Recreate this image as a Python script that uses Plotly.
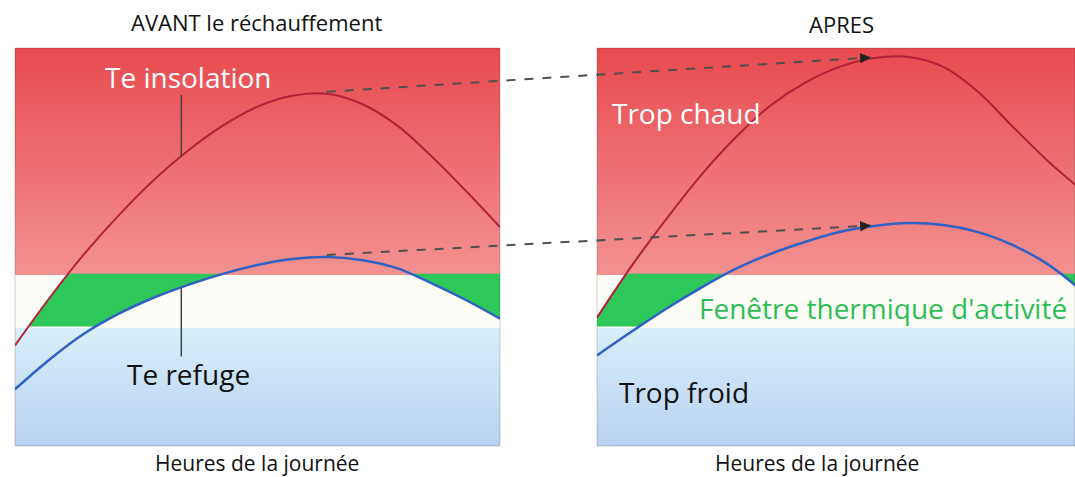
import numpy as np
import plotly.graph_objects as go

# heures de la journee (axe commun aux deux panneaux)
heures = [6, 7, 8, 9, 10, 11, 12, 13, 14, 15, 16, 17, 18, 19, 20]

# temperatures operatives
avant_insolation = [10.1, 14.9, 19.3, 23.2, 26.7, 29.7, 32.2, 34.1, 35.2, 35.4, 34.4, 32.3, 29.2, 25.7, 22.0]
avant_refuge = [5.7, 8.7, 11.3, 13.3, 14.9, 16.2, 17.3, 18.2, 18.8, 19.0, 18.7, 17.9, 16.4, 14.7, 12.8]
apres_insolation = [12.9, 18.1, 22.8, 27.2, 31.0, 34.2, 36.5, 38.1, 39.0, 39.1, 38.1, 35.6, 32.1, 28.7, 25.7]
apres_refuge = [9.1, 11.5, 13.8, 15.9, 17.8, 19.3, 20.5, 21.5, 22.1, 22.4, 22.2, 21.5, 20.2, 18.3, 15.6]

# fenetre thermique d'activite
fenetre_min = 12.0
fenetre_max = 17.3

T_MAX = 40
X_MIN, X_MAX = 6, 20
X_MAX_APRES = 19.8  # le panneau de droite est coupe par le bord

W, H = 1075, 477
dom_avant = [15 / W, 500 / W]
dom_apres = [597 / W, 1.0]
dom_y = [1 - 446 / H, 1 - 48 / H]

ROUGE = '#b32136'
BLEU = '#2f62c4'
VERT = '#2ec75a'

fond = [[0, '#b9d0f1'], [fenetre_min / T_MAX, '#d8f0fa'],
        [fenetre_min / T_MAX, '#fdfdf8'], [fenetre_max / T_MAX, '#fdfdf8'],
        [fenetre_max / T_MAX, '#f39191'], [1, '#e84b4f']]


def fenetre_poly(h, ins, ref):
    hh = np.linspace(h[0], h[-1], 2801)
    top = np.minimum(fenetre_max, np.interp(hh, h, ins))
    bot = np.maximum(fenetre_min, np.interp(hh, h, ref))
    ok = top > bot
    xs, ys = [], []
    i = 0
    while i < len(hh):
        if ok[i]:
            j = i
            while j + 1 < len(hh) and ok[j + 1]:
                j += 1
            seg = slice(i, j + 1)
            xs += list(hh[seg]) + list(hh[seg][::-1]) + [None]
            ys += list(top[seg]) + list(bot[seg][::-1]) + [None]
            i = j + 1
        else:
            i += 1
    return xs, ys


fig = go.Figure()
t_grid = np.linspace(0, T_MAX, 401)

panels = [('x', 'y', avant_insolation, avant_refuge),
          ('x2', 'y2', apres_insolation, apres_refuge)]
for xa, ya, ins, ref in panels:
    fig.add_trace(go.Heatmap(x=[X_MIN, X_MAX], y=t_grid, z=[[t, t] for t in t_grid],
                             colorscale=fond, zmin=0, zmax=T_MAX, zsmooth='best',
                             showscale=False, hoverinfo='skip', xaxis=xa, yaxis=ya))
    gx, gy = fenetre_poly(heures, ins, ref)
    fig.add_trace(go.Scatter(x=gx, y=gy, mode='lines', fill='toself', fillcolor=VERT,
                             line=dict(width=0), hoverinfo='skip', xaxis=xa, yaxis=ya))
    fig.add_trace(go.Scatter(x=heures, y=ins, mode='lines', line=dict(color=ROUGE, width=2, shape='spline'),
                             hoverinfo='skip', xaxis=xa, yaxis=ya))
    fig.add_trace(go.Scatter(x=heures, y=ref, mode='lines', line=dict(color=BLEU, width=2.5, shape='spline'),
                             hoverinfo='skip', xaxis=xa, yaxis=ya))

# petits traits de rappel des etiquettes
h_tick = 10.8
fig.add_trace(go.Scatter(x=[h_tick, h_tick, None, h_tick, h_tick],
                         y=[35.3, np.interp(h_tick, heures, avant_insolation), None,
                            np.interp(h_tick, heures, avant_refuge), 9.0],
                         mode='lines', line=dict(color='#444444', width=1.5), hoverinfo='skip'))


def to_paper(h, t, apres):
    d = dom_apres if apres else dom_avant
    x1 = X_MAX_APRES if apres else X_MAX
    px = d[0] + (h - X_MIN) / (x1 - X_MIN) * (d[1] - d[0])
    py = dom_y[0] + t / T_MAX * (dom_y[1] - dom_y[0])
    return px, py


# fleches en tirets AVANT -> APRES
for serie_av, serie_ap in [(avant_insolation, apres_insolation), (avant_refuge, apres_refuge)]:
    x0, y0 = to_paper(15, serie_av[heures.index(15)] + 0.2, False)
    x1, y1 = to_paper(13.9, serie_ap[heures.index(14)] + 0.05, True)
    fig.add_shape(type='line', xref='paper', yref='paper', x0=x0, y0=y0, x1=x1, y1=y1,
                  line=dict(color='#505050', width=2, dash='dash'))
    fig.add_annotation(xref='paper', yref='paper', x=x1, y=y1, ax=-12, ay=0.8, text='',
                       showarrow=True, arrowhead=2, arrowsize=1.3, arrowwidth=1.6, arrowcolor='#222222')

# cadres des panneaux
for xa, ya in [('x', 'y'), ('x2', 'y2')]:
    fig.add_shape(type='rect', xref=xa + ' domain', yref=ya + ' domain', x0=0, x1=1, y0=0, y1=1,
                  line=dict(color='rgba(0,0,0,0.18)', width=1))

FONT = 'Open Sans'
labels = [
    ('x', 'y', 11.0, 37.1, 'Te insolation', 'white', 28, 'center'),
    ('x', 'y', 11.0, 7.25, 'Te refuge', '#111111', 28, 'center'),
    ('x2', 'y2', 6.37, 33.5, 'Trop chaud', 'white', 28, 'left'),
    ('x2', 'y2', 6.58, 5.4, 'Trop froid', '#111111', 28, 'left'),
    ('x2', 'y2', 8.88, 13.9, "Fenêtre thermique d'activité", '#2dbd55', 28, 'left'),
]
for xa, ya, x, y, txt, col, size, anchor in labels:
    fig.add_annotation(xref=xa, yref=ya, x=x, y=y, text=txt, showarrow=False, xanchor=anchor,
                       yanchor='middle', font=dict(family=FONT, size=size, color=col))

titres = [(256 / W, 1 - 22 / H, 'AVANT le réchauffement', 22), (841 / W, 1 - 24 / H, 'APRES', 22),
          (257 / W, 1 - 463 / H, 'Heures de la journée', 21), (817 / W, 1 - 463 / H, 'Heures de la journée', 21)]
for x, y, txt, size in titres:
    fig.add_annotation(xref='paper', yref='paper', x=x, y=y, text=txt, showarrow=False,
                       xanchor='center', yanchor='middle', font=dict(family=FONT, size=size, color='#111111'))

ax_common = dict(visible=False, showgrid=False, zeroline=False, fixedrange=True)
fig.update_layout(
    width=W, height=H, margin=dict(l=0, r=0, t=0, b=0),
    paper_bgcolor='white', plot_bgcolor='white', showlegend=False,
    xaxis=dict(domain=dom_avant, range=[X_MIN, X_MAX], anchor='y', **ax_common),
    yaxis=dict(domain=dom_y, range=[0, T_MAX], anchor='x', **ax_common),
    xaxis2=dict(domain=dom_apres, range=[X_MIN, X_MAX_APRES], anchor='y2', **ax_common),
    yaxis2=dict(domain=dom_y, range=[0, T_MAX], anchor='x2', **ax_common),
)

fig.write_html("out.html", config={'displayModeBar': False},
               post_script="document.body.style.margin='0px';")
